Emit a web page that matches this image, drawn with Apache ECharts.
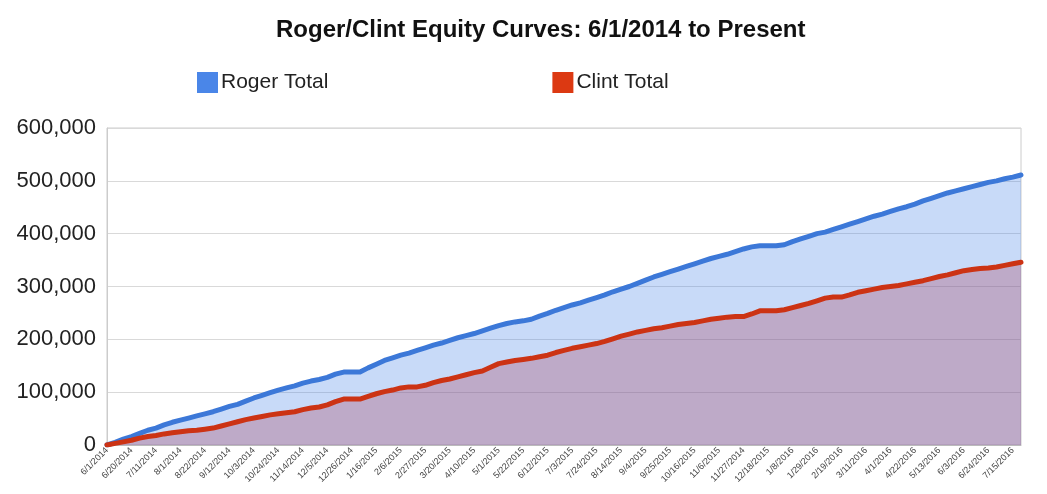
<!DOCTYPE html>
<html>
<head>
<meta charset="utf-8">
<script src="https://cdn.jsdelivr.net/npm/echarts@6/dist/echarts.min.js"></script>
<style>html,body{margin:0;padding:0;background:#fff;}#c{width:1047px;height:494px;}</style>
</head>
<body>
<div id="c"></div>
<script>
// Tick labels shown every 3rd weekly category (as printed on the reference)
const tickLabels = ["6/1/2014","6/20/2014","7/11/2014","8/1/2014","8/22/2014","9/12/2014","10/3/2014","10/24/2014","11/14/2014","12/5/2014","12/26/2014","1/16/2015","2/6/2015","2/27/2015","3/20/2015","4/10/2015","5/1/2015","5/22/2015","6/12/2015","7/3/2015","7/24/2015","8/14/2015","9/4/2015","9/25/2015","10/16/2015","11/6/2015","11/27/2014","12/18/2015","1/8/2016","1/29/2016","2/19/2016","3/11/2016","4/1/2016","4/22/2016","5/13/2016","6/3/2016","6/24/2016","7/15/2016"];

// Roger Total (weekly)
const roger = [0,5000,11000,16000,22000,28000,32000,38000,43000,47000,51000,55000,59000,63000,68000,73000,77000,83000,89000,94000,99000,104000,108000,112000,117000,121000,124000,128000,134000,138000,138000,138000,146000,153000,160000,165000,170000,174000,179000,184000,189000,193000,198000,203000,207000,211000,216000,221000,226000,230000,233000,235000,238000,244000,249000,255000,260000,265000,269000,274000,279000,284000,290000,295000,300000,306000,312000,318000,323000,328000,333000,338000,343000,348000,353000,357000,361000,366000,371000,375000,377000,377000,377000,379000,385000,390000,395000,400000,403000,408000,413000,418000,423000,428000,433000,437000,442000,447000,451000,456000,462000,467000,472000,477000,481000,485000,489000,493000,497000,500000,504000,507000,511000];

// Clint Total (weekly)
const clint = [0,3000,6000,9000,13000,16000,18000,21000,23000,25000,27000,28000,30000,32000,36000,40000,44000,48000,51000,54000,57000,59000,61000,63000,67000,70000,72000,76000,82000,87000,87000,87000,92000,97000,101000,104000,108000,110000,110000,113000,118000,122000,125000,129000,133000,137000,140000,147000,154000,157000,160000,162000,164000,167000,170000,175000,179000,183000,186000,189000,192000,196000,201000,206000,210000,214000,217000,220000,222000,225000,228000,230000,232000,235000,238000,240000,242000,243000,243000,248000,254000,254000,254000,256000,260000,264000,268000,273000,278000,280000,280000,284000,289000,292000,295000,298000,300000,302000,305000,308000,311000,315000,319000,322000,326000,330000,332000,334000,335000,337000,340000,343000,346000];

const categories = roger.map((_, i) => i % 3 === 0 ? tickLabels[i / 3] : "wk" + i);

const chart = echarts.init(document.getElementById('c'), null, {renderer: 'canvas'});
chart.setOption({
  animation: false,
  backgroundColor: '#fff',
  title: {
    text: 'Roger/Clint Equity Curves: 6/1/2014 to Present',
    left: 271, top: 13,
    textStyle: {fontFamily: 'Liberation Sans, Arial', fontSize: 24, fontWeight: 'bold', color: '#111'}
  },
  legend: {
    left: 192, top: 67,
    icon: 'rect', itemWidth: 21, itemHeight: 21, itemGap: 224,
    textStyle: {fontFamily: 'Liberation Sans, Arial', fontSize: 21, color: '#222', padding: [0,0,0,-2]},
    data: ['Roger Total', 'Clint Total']
  },
  grid: {left: 107, right: 26, top: 128, bottom: 49, show: true, borderColor: '#ccc', borderWidth: 1},
  xAxis: {
    type: 'category', data: categories, boundaryGap: false,
    axisLine: {show: true, lineStyle: {color: '#bbb'}},
    axisTick: {show: false},
    axisLabel: {
      interval: 2, rotate: 45, fontSize: 9, color: '#444', margin: 4,
      fontFamily: 'Liberation Sans, Arial',
      formatter: (v, i) => tickLabels[i / 3] || ''
    }
  },
  yAxis: {
    type: 'value', min: 0, max: 600000, interval: 100000,
    axisLine: {show: true, lineStyle: {color: '#ccc'}},
    axisTick: {show: false},
    splitLine: {lineStyle: {color: '#d9d9d9'}},
    axisLabel: {
      fontSize: 22, color: '#222', margin: 11, fontFamily: 'Liberation Sans, Arial',
      formatter: v => v.toLocaleString('en-US')
    }
  },
  series: [
    {
      name: 'Roger Total', type: 'line', data: roger, showSymbol: false, z: 2,
      itemStyle: {color: '#4a86e8'},
      lineStyle: {color: '#3c78d8', width: 5, cap: 'round', join: 'round'},
      areaStyle: {color: 'rgba(74,134,232,0.3)', opacity: 1, origin: 'start'}
    },
    {
      name: 'Clint Total', type: 'line', data: clint, showSymbol: false, z: 3,
      itemStyle: {color: '#dc3912'},
      lineStyle: {color: '#cc3314', width: 5, cap: 'round', join: 'round'},
      areaStyle: {color: 'rgba(170,60,90,0.3)', opacity: 1, origin: 'start'}
    }
  ]
});
</script>
</body>
</html>
